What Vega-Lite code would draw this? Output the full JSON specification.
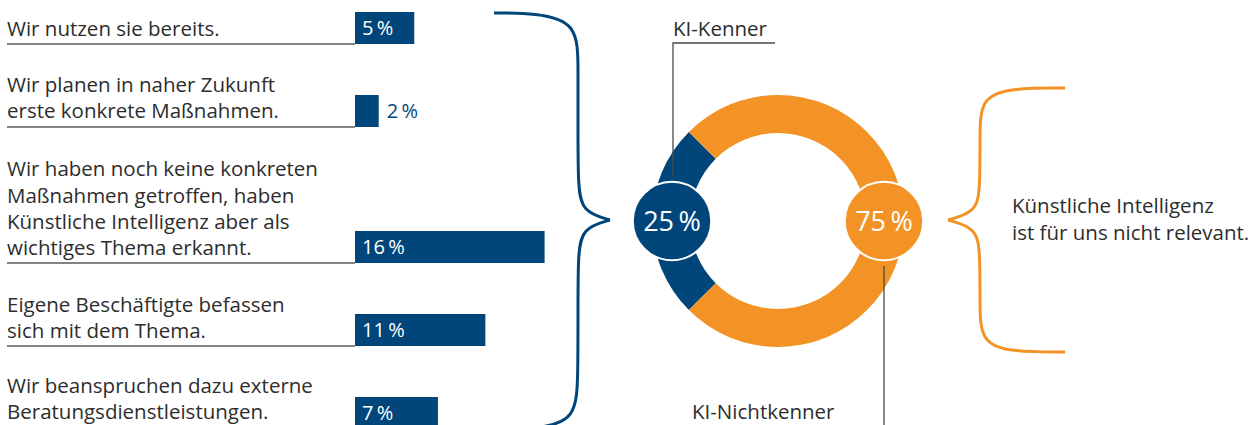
{
  "$schema": "https://vega.github.io/schema/vega-lite/v6.json",
  "width": 1257,
  "height": 425,
  "autosize": {"type": "none"},
  "padding": 0,
  "background": "white",
  "config": {
    "view": {"stroke": null},
    "axis": {"disable": true},
    "legend": {"disable": true},
    "text": {"font": "Open Sans"}
  },
  "datasets": {
    "labels": [
      {"t": "Wir nutzen sie bereits.", "x": 7, "y": 36},
      {"t": "Wir planen in naher Zukunft", "x": 7, "y": 92},
      {"t": "erste konkrete Maßnahmen.", "x": 7, "y": 118},
      {"t": "Wir haben noch keine konkreten", "x": 7, "y": 176},
      {"t": "Maßnahmen getroffen, haben", "x": 7, "y": 203},
      {"t": "Künstliche Intelligenz aber als", "x": 7, "y": 229},
      {"t": "wichtiges Thema erkannt.", "x": 7, "y": 255},
      {"t": "Eigene Beschäftigte befassen", "x": 7, "y": 312},
      {"t": "sich mit dem Thema.", "x": 7, "y": 338},
      {"t": "Wir beanspruchen dazu externe", "x": 7, "y": 393},
      {"t": "Beratungsdienstleistungen.", "x": 7, "y": 419},
      {"t": "KI-Kenner", "x": 673, "y": 36},
      {"t": "KI-Nichtkenner", "x": 692, "y": 419},
      {"t": "Künstliche Intelligenz", "x": 1012, "y": 213},
      {"t": "ist für uns nicht relevant.", "x": 1012, "y": 240}
    ],
    "bars": [
      {"item": "Wir nutzen sie bereits.", "start": 0, "value": 5, "label": "5\u2009%", "top": 12, "bottom": 44, "u0": 7, "u1": 355},
      {"item": "Wir planen in naher Zukunft erste konkrete Maßnahmen.", "start": 0, "value": 2, "label": "2\u2009%", "top": 95, "bottom": 127, "u0": 7, "u1": 355},
      {"item": "Keine konkreten Maßnahmen, aber wichtiges Thema", "start": 0, "value": 16, "label": "16\u2009%", "top": 231, "bottom": 263, "u0": 7, "u1": 355},
      {"item": "Eigene Beschäftigte befassen sich mit dem Thema.", "start": 0, "value": 11, "label": "11\u2009%", "top": 314, "bottom": 346, "u0": 7, "u1": 355},
      {"item": "Externe Beratungsdienstleistungen", "start": 0, "value": 7, "label": "7\u2009%", "top": 397, "bottom": 429, "u0": 7, "u1": 355}
    ],
    "donut": [
      {"group": "KI-Kenner", "value": 25, "label": "25\u2009%", "cx": 778, "cy": 221, "px": 672},
      {"group": "KI-Nichtkenner", "value": 75, "label": "75\u2009%", "cx": 778, "cy": 221, "px": 884}
    ],
    "leaders": [
      {"part": "k", "i": 0, "x": 775, "y": 43},
      {"part": "k", "i": 1, "x": 673, "y": 43},
      {"part": "k", "i": 2, "x": 673, "y": 176},
      {"part": "n", "i": 0, "x": 884, "y": 266},
      {"part": "n", "i": 1, "x": 884, "y": 430}
    ],
    "braces": [
      {"group": "KI-Kenner", "part": "b1", "i": 0, "x": 494, "y": 13},
      {"group": "KI-Kenner", "part": "b1", "i": 1, "x": 535, "y": 13},
      {"group": "KI-Kenner", "part": "b1", "i": 2, "x": 578, "y": 22},
      {"group": "KI-Kenner", "part": "b1", "i": 3, "x": 578, "y": 70},
      {"group": "KI-Kenner", "part": "b1", "i": 4, "x": 578, "y": 130},
      {"group": "KI-Kenner", "part": "b1", "i": 5, "x": 578, "y": 185},
      {"group": "KI-Kenner", "part": "b1", "i": 6, "x": 582, "y": 212},
      {"group": "KI-Kenner", "part": "b1", "i": 7, "x": 610, "y": 220},
      {"group": "KI-Kenner", "part": "b2", "i": 0, "x": 610, "y": 220},
      {"group": "KI-Kenner", "part": "b2", "i": 1, "x": 582, "y": 228},
      {"group": "KI-Kenner", "part": "b2", "i": 2, "x": 578, "y": 255},
      {"group": "KI-Kenner", "part": "b2", "i": 3, "x": 578, "y": 310},
      {"group": "KI-Kenner", "part": "b2", "i": 4, "x": 578, "y": 375},
      {"group": "KI-Kenner", "part": "b2", "i": 5, "x": 576, "y": 420},
      {"group": "KI-Kenner", "part": "b2", "i": 6, "x": 540, "y": 428},
      {"group": "KI-Kenner", "part": "b2", "i": 7, "x": 510, "y": 430},
      {"group": "KI-Nichtkenner", "part": "o1", "i": 0, "x": 1065, "y": 88},
      {"group": "KI-Nichtkenner", "part": "o1", "i": 1, "x": 1010, "y": 88},
      {"group": "KI-Nichtkenner", "part": "o1", "i": 2, "x": 980, "y": 98},
      {"group": "KI-Nichtkenner", "part": "o1", "i": 3, "x": 980, "y": 140},
      {"group": "KI-Nichtkenner", "part": "o1", "i": 4, "x": 980, "y": 185},
      {"group": "KI-Nichtkenner", "part": "o1", "i": 5, "x": 977, "y": 212},
      {"group": "KI-Nichtkenner", "part": "o1", "i": 6, "x": 948, "y": 220},
      {"group": "KI-Nichtkenner", "part": "o2", "i": 0, "x": 948, "y": 220},
      {"group": "KI-Nichtkenner", "part": "o2", "i": 1, "x": 977, "y": 228},
      {"group": "KI-Nichtkenner", "part": "o2", "i": 2, "x": 980, "y": 255},
      {"group": "KI-Nichtkenner", "part": "o2", "i": 3, "x": 980, "y": 300},
      {"group": "KI-Nichtkenner", "part": "o2", "i": 4, "x": 980, "y": 342},
      {"group": "KI-Nichtkenner", "part": "o2", "i": 5, "x": 1010, "y": 352},
      {"group": "KI-Nichtkenner", "part": "o2", "i": 6, "x": 1065, "y": 352}
    ]
  },
  "layer": [
    {
      "data": {"name": "labels"},
      "mark": {"type": "text", "align": "left", "baseline": "alphabetic", "fontSize": 20.5, "color": "#2d2d2d"},
      "encoding": {
        "x": {"field": "x", "type": "quantitative", "scale": {"domain": [0, 1257], "nice": false, "zero": false}},
        "y": {"field": "y", "type": "quantitative", "scale": {"domain": [0, 425], "nice": false, "zero": false, "reverse": true}},
        "text": {"field": "t"}
      }
    },
    {
      "data": {"name": "bars"},
      "mark": {"type": "rule", "color": "#5a5a5a", "strokeWidth": 1.5},
      "encoding": {
        "x": {"field": "u0", "type": "quantitative", "scale": {"domain": [0, 1257], "nice": false, "zero": false}},
        "x2": {"field": "u1"},
        "y": {"field": "bottom", "type": "quantitative", "scale": {"domain": [0, 425], "nice": false, "zero": false, "reverse": true}}
      }
    },
    {
      "data": {"name": "bars"},
      "mark": {"type": "rect", "color": "#00467a"},
      "encoding": {
        "x": {"field": "start", "type": "quantitative", "scale": {"domain": [-29.96, 76.12], "nice": false, "zero": false}},
        "x2": {"field": "value"},
        "y": {"field": "top", "type": "quantitative", "scale": {"domain": [0, 425], "nice": false, "zero": false, "reverse": true}},
        "y2": {"field": "bottom"}
      }
    },
    {
      "data": {"name": "bars"},
      "transform": [{"filter": "datum.value >= 3"}],
      "mark": {"type": "text", "align": "left", "baseline": "alphabetic", "fontSize": 20, "color": "white", "dx": 7, "dy": 23},
      "encoding": {
        "x": {"field": "start", "type": "quantitative", "scale": {"domain": [-29.96, 76.12], "nice": false, "zero": false}},
        "y": {"field": "top", "type": "quantitative", "scale": {"domain": [0, 425], "nice": false, "zero": false, "reverse": true}},
        "text": {"field": "label"}
      }
    },
    {
      "data": {"name": "bars"},
      "transform": [{"filter": "datum.value < 3"}],
      "mark": {"type": "text", "align": "left", "baseline": "alphabetic", "fontSize": 20, "color": "#00467a", "dx": 8, "dy": 23},
      "encoding": {
        "x": {"field": "value", "type": "quantitative", "scale": {"domain": [-29.96, 76.12], "nice": false, "zero": false}},
        "y": {"field": "top", "type": "quantitative", "scale": {"domain": [0, 425], "nice": false, "zero": false, "reverse": true}},
        "text": {"field": "label"}
      }
    },
    {
      "data": {"name": "donut"},
      "mark": {"type": "arc", "outerRadius": 126, "innerRadius": 88},
      "encoding": {
        "x": {"field": "cx", "type": "quantitative", "scale": {"domain": [0, 1257], "nice": false, "zero": false}},
        "y": {"field": "cy", "type": "quantitative", "scale": {"domain": [0, 425], "nice": false, "zero": false, "reverse": true}},
        "theta": {"field": "value", "type": "quantitative", "stack": true, "scale": {"range": [3.927, 10.2102]}},
        "order": {"field": "value", "type": "quantitative", "sort": "ascending"},
        "color": {"field": "group", "type": "nominal", "scale": {"domain": ["KI-Kenner", "KI-Nichtkenner"], "range": ["#00467a", "#f39325"]}}
      }
    },
    {
      "data": {"name": "leaders"},
      "mark": {"type": "line", "color": "#4a4a4a", "strokeWidth": 1.3},
      "encoding": {
        "x": {"field": "x", "type": "quantitative", "scale": {"domain": [0, 1257], "nice": false, "zero": false}},
        "y": {"field": "y", "type": "quantitative", "scale": {"domain": [0, 425], "nice": false, "zero": false, "reverse": true}},
        "detail": {"field": "part"},
        "order": {"field": "i", "type": "quantitative"}
      }
    },
    {
      "data": {"name": "donut"},
      "mark": {"type": "point", "shape": "circle", "filled": true, "opacity": 1, "size": 6150, "stroke": "white", "strokeWidth": 2},
      "encoding": {
        "x": {"field": "px", "type": "quantitative", "scale": {"domain": [0, 1257], "nice": false, "zero": false}},
        "y": {"field": "cy", "type": "quantitative", "scale": {"domain": [0, 425], "nice": false, "zero": false, "reverse": true}},
        "color": {"field": "group", "type": "nominal", "scale": {"domain": ["KI-Kenner", "KI-Nichtkenner"], "range": ["#00467a", "#f39325"]}}
      }
    },
    {
      "data": {"name": "donut"},
      "mark": {"type": "text", "align": "center", "baseline": "alphabetic", "fontSize": 27, "fontWeight": 500, "color": "white", "dy": 10},
      "encoding": {
        "x": {"field": "px", "type": "quantitative", "scale": {"domain": [0, 1257], "nice": false, "zero": false}},
        "y": {"field": "cy", "type": "quantitative", "scale": {"domain": [0, 425], "nice": false, "zero": false, "reverse": true}},
        "text": {"field": "label"}
      }
    },
    {
      "data": {"name": "braces"},
      "mark": {"type": "line", "interpolate": "basis", "strokeWidth": 3},
      "encoding": {
        "x": {"field": "x", "type": "quantitative", "scale": {"domain": [0, 1257], "nice": false, "zero": false}},
        "y": {"field": "y", "type": "quantitative", "scale": {"domain": [0, 425], "nice": false, "zero": false, "reverse": true}},
        "detail": {"field": "part"},
        "order": {"field": "i", "type": "quantitative"},
        "color": {"field": "group", "type": "nominal", "scale": {"domain": ["KI-Kenner", "KI-Nichtkenner"], "range": ["#00467a", "#f39325"]}}
      }
    }
  ],
  "resolve": {"scale": {"x": "independent"}}
}
